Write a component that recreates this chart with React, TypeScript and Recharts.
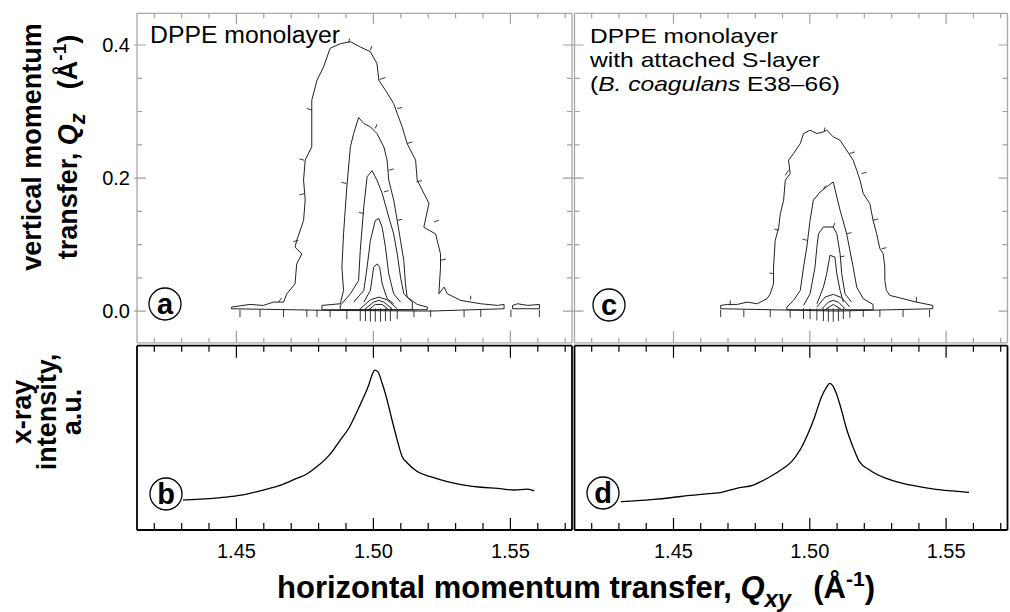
import React from 'react';
import { LineChart, Line, XAxis, YAxis } from 'recharts';

const FONT = '"Liberation Sans", Arial, Helvetica, sans-serif';

// axis ticks (Å^-1)
const qTicks = [1.42, 1.43, 1.44, 1.45, 1.46, 1.47, 1.48, 1.49, 1.5, 1.51, 1.52, 1.53, 1.54, 1.55, 1.56, 1.57];
const qMajor = [1.45, 1.5, 1.55];
const zTicks = [0, 0.05, 0.1, 0.15, 0.2, 0.25, 0.3, 0.35, 0.4];
const zMajor = [0, 0.2, 0.4];
const qDomain = [1.4137, 1.5725];
const zDomain = [-0.0477, 0.4477];
const iDomain = [0, 100];

type Pt = [number, number];

// ---- panel a: DPPE monolayer, contour lines [Qxy, Qz]
const aOuter: Pt[] = [
  [1.4482, 0.006], [1.4549, 0.010], [1.4598, 0.0085], [1.4635, 0.0135], [1.4672, 0.0135], [1.4684, 0.026],
  [1.4714, 0.041], [1.4720, 0.071], [1.4739, 0.086], [1.4714, 0.096], [1.4720, 0.106], [1.4745, 0.136],
  [1.4751, 0.167], [1.4745, 0.197], [1.4751, 0.227], [1.4775, 0.247], [1.4775, 0.277], [1.4775, 0.317],
  [1.4794, 0.347], [1.4818, 0.367], [1.4842, 0.395], [1.4879, 0.402], [1.4916, 0.405], [1.4952, 0.397],
  [1.4989, 0.390], [1.5013, 0.372], [1.5020, 0.347], [1.5044, 0.332], [1.5074, 0.312], [1.5087, 0.297],
  [1.5105, 0.277], [1.5123, 0.252], [1.5154, 0.227], [1.5160, 0.197], [1.5184, 0.177], [1.5203, 0.162],
  [1.5184, 0.126], [1.5227, 0.116], [1.5245, 0.086], [1.5245, 0.066], [1.5239, 0.026], [1.5258, 0.036],
  [1.5270, 0.026], [1.5319, 0.016], [1.5392, 0.011], [1.5453, 0.0085], [1.5477, 0.010], [1.5477, 0.0035],
  [1.5209, 0.0], [1.4842, 0.001], [1.4482, 0.0035], [1.4482, 0.006],
];
const aTail: Pt[] = [
  [1.5508, 0.0085], [1.5526, 0.011], [1.5563, 0.0085], [1.5606, 0.010], [1.5606, 0.0035], [1.5508, 0.0035], [1.5508, 0.0085],
];
const aC2: Pt[] = [
  [1.4812, 0.0085], [1.4879, 0.011], [1.4891, 0.031], [1.4885, 0.066], [1.4891, 0.116], [1.4903, 0.187],
  [1.4916, 0.247], [1.4928, 0.267], [1.4946, 0.291], [1.4965, 0.282], [1.4989, 0.277], [1.5013, 0.267],
  [1.5038, 0.247], [1.5050, 0.227], [1.5056, 0.197], [1.5074, 0.167], [1.5087, 0.136], [1.5099, 0.106],
  [1.5111, 0.076], [1.5117, 0.041], [1.5123, 0.021], [1.5160, 0.010], [1.5197, 0.006], [1.5197, 0.002],
  [1.4812, 0.002], [1.4812, 0.0085],
];
const aC3: Pt[] = [
  [1.4879, 0.0085], [1.4916, 0.026], [1.4946, 0.046], [1.4952, 0.091], [1.4965, 0.157], [1.4977, 0.202],
  [1.4995, 0.211], [1.5013, 0.197], [1.5032, 0.177], [1.5056, 0.1415], [1.5074, 0.116], [1.5087, 0.086],
  [1.5099, 0.051], [1.5111, 0.026], [1.5142, 0.0135], [1.5142, 0.002], [1.4879, 0.002], [1.4879, 0.0085],
];
const aC4: Pt[] = [
  [1.4928, 0.0135], [1.4965, 0.031], [1.4977, 0.066], [1.4989, 0.106], [1.5007, 0.1365], [1.5020, 0.139],
  [1.5032, 0.126], [1.5044, 0.096], [1.5056, 0.056], [1.5074, 0.026], [1.5099, 0.0135],
];
const aC5: Pt[] = [
  [1.4965, 0.0135], [1.4989, 0.031], [1.5001, 0.066], [1.5013, 0.071], [1.5023, 0.066], [1.5032, 0.041],
  [1.5050, 0.0186], [1.5074, 0.011],
];
const aC6: Pt[] = [[1.4952, 0.0035], [1.4989, 0.017], [1.5020, 0.021], [1.5050, 0.017], [1.5087, 0.0035]];
const aC7: Pt[] = [[1.4971, 0.0035], [1.5001, 0.0135], [1.5020, 0.016], [1.5038, 0.0135], [1.5068, 0.0035]];
const aC8: Pt[] = [[1.4983, 0.002], [1.5007, 0.010], [1.5032, 0.010], [1.5056, 0.002]];
// downhill tick marks on the contours [q1, z1, q2, z2]
const aHach: number[][] = [
  [1.4910, 0.4034, 1.4913, 0.4099], [1.4989, 0.3924, 1.4994, 0.3984], [1.5023, 0.3482, 1.5044, 0.3512],
  [1.5087, 0.3046, 1.5105, 0.3061], [1.5123, 0.2519, 1.5143, 0.2544], [1.5157, 0.1942, 1.5177, 0.1962],
  [1.5221, 0.1340, 1.5239, 0.1365], [1.5245, 0.0763, 1.5265, 0.0783], [1.5355, 0.0231, 1.5355, 0.0171],
  [1.4775, 0.3021, 1.4757, 0.3046], [1.4747, 0.2268, 1.4730, 0.2288], [1.4747, 0.1766, 1.4729, 0.1746],
  [1.4726, 0.1064, 1.4708, 0.1044], [1.4665, 0.0196, 1.4653, 0.0135], [1.5007, 0.2745, 1.5013, 0.2810],
  [1.5056, 0.2117, 1.5074, 0.2137], [1.5087, 0.1365, 1.5105, 0.1380], [1.4901, 0.1917, 1.4883, 0.1937],
  [1.5038, 0.1791, 1.5056, 0.1811], [1.4965, 0.1465, 1.4947, 0.1485],
  [1.4513, 0.002, 1.4513, -0.009], [1.4586, 0.002, 1.4586, -0.009], [1.4672, 0.002, 1.4672, -0.009],
  [1.4757, 0.002, 1.4757, -0.009], [1.4794, 0.002, 1.4794, -0.009], [1.4842, 0.002, 1.4842, -0.009],
  [1.4903, 0.002, 1.4903, -0.012], [1.4952, 0.004, 1.4952, -0.015], [1.4971, 0.004, 1.4971, -0.015],
  [1.4989, 0.004, 1.4989, -0.016], [1.5007, 0.004, 1.5007, -0.016], [1.5026, 0.004, 1.5026, -0.016],
  [1.5044, 0.004, 1.5044, -0.015], [1.5062, 0.004, 1.5062, -0.015], [1.5087, 0.002, 1.5087, -0.012],
  [1.5148, 0.002, 1.5148, -0.009], [1.5209, 0.002, 1.5209, -0.009], [1.5331, 0.002, 1.5331, -0.009],
  [1.5392, 0.002, 1.5392, -0.009], [1.5502, 0.002, 1.5502, -0.009], [1.5606, 0.002, 1.5606, -0.009],
];

// ---- panel c: DPPE monolayer with S-layer
const cOuter: Pt[] = [
  [1.4673, 0.0085], [1.4697, 0.010], [1.4734, 0.010], [1.4770, 0.0135], [1.4807, 0.011], [1.4843, 0.0186],
  [1.4855, 0.026], [1.4867, 0.041], [1.4867, 0.066], [1.4873, 0.106], [1.4886, 0.126], [1.4892, 0.1465],
  [1.4904, 0.1666], [1.4910, 0.1967], [1.4928, 0.2067], [1.4922, 0.2268], [1.4940, 0.2368], [1.4965, 0.2519],
  [1.4977, 0.2669], [1.5001, 0.272], [1.5026, 0.2669], [1.5050, 0.2694], [1.5062, 0.272], [1.5086, 0.2619],
  [1.5111, 0.2569], [1.5135, 0.2418], [1.5159, 0.2268], [1.5172, 0.2117], [1.5184, 0.1967], [1.5196, 0.1766],
  [1.5220, 0.1616], [1.5232, 0.1365], [1.5245, 0.1164], [1.5257, 0.0938], [1.5269, 0.0863], [1.5275, 0.0662],
  [1.5275, 0.0462], [1.5281, 0.0311], [1.5293, 0.0236], [1.5342, 0.0186], [1.5391, 0.0135], [1.5451, 0.0085],
  [1.5451, 0.0035], [1.5099, 0.0], [1.4673, 0.0035], [1.4673, 0.0085],
];
const cC2: Pt[] = [
  [1.4916, 0.006], [1.4940, 0.016], [1.4965, 0.031], [1.4977, 0.066], [1.4989, 0.0963], [1.5001, 0.1365],
  [1.5013, 0.1666], [1.5038, 0.1791], [1.5062, 0.1867], [1.5086, 0.1942], [1.5099, 0.1716], [1.5111, 0.1515],
  [1.5135, 0.1164], [1.5147, 0.0913], [1.5159, 0.0662], [1.5172, 0.0361], [1.5196, 0.0186], [1.5232, 0.010],
  [1.5232, 0.002], [1.4916, 0.002], [1.4916, 0.006],
];
const cC3: Pt[] = [
  [1.4977, 0.0085], [1.5001, 0.026], [1.5019, 0.066], [1.5026, 0.0963], [1.5032, 0.1164], [1.5050, 0.1264],
  [1.5086, 0.1264], [1.5099, 0.1164], [1.5111, 0.0863], [1.5117, 0.0562], [1.5129, 0.026], [1.5153, 0.0135],
];
const cC4: Pt[] = [
  [1.5026, 0.011], [1.5050, 0.0361], [1.5062, 0.0562], [1.5074, 0.0838], [1.5092, 0.0813], [1.5099, 0.0562],
  [1.5111, 0.0311], [1.5123, 0.0135],
];
const cC5: Pt[] = [[1.5026, 0.006], [1.5056, 0.0211], [1.5086, 0.0251], [1.5117, 0.0201], [1.5147, 0.006]];
const cC6: Pt[] = [[1.5044, 0.0035], [1.5068, 0.0135], [1.5086, 0.016], [1.5105, 0.0135], [1.5129, 0.0035]];
const cC7: Pt[] = [[1.5056, 0.002], [1.5086, 0.010], [1.5117, 0.002]];
const cHach: number[][] = [
  [1.5052, 0.2694, 1.5056, 0.2760], [1.5147, 0.2368, 1.5165, 0.2393], [1.5190, 0.2067, 1.5208, 0.2087],
  [1.5232, 0.1365, 1.5251, 0.1385], [1.5263, 0.0938, 1.5281, 0.0953], [1.5391, 0.0211, 1.5391, 0.0135],
  [1.4922, 0.2117, 1.4910, 0.2042], [1.4886, 0.1214, 1.4870, 0.1234], [1.4867, 0.0562, 1.4852, 0.0572],
  [1.4709, 0.0161, 1.4707, 0.0085], [1.5050, 0.1841, 1.5060, 0.1892], [1.5135, 0.1164, 1.5153, 0.1179],
  [1.4989, 0.1064, 1.4973, 0.1084], [1.5086, 0.1264, 1.5092, 0.1325], [1.5111, 0.0813, 1.5127, 0.0828],
  [1.4673, 0.002, 1.4673, -0.009], [1.4758, 0.002, 1.4758, -0.009], [1.4855, 0.002, 1.4855, -0.009],
  [1.4928, 0.002, 1.4928, -0.010], [1.4977, 0.004, 1.4977, -0.012], [1.5001, 0.004, 1.5001, -0.012],
  [1.5026, 0.004, 1.5026, -0.014], [1.5050, 0.004, 1.5050, -0.015], [1.5068, 0.004, 1.5068, -0.016],
  [1.5086, 0.004, 1.5086, -0.016], [1.5105, 0.004, 1.5105, -0.015], [1.5123, 0.004, 1.5123, -0.012],
  [1.5147, 0.002, 1.5147, -0.010], [1.5196, 0.002, 1.5196, -0.009], [1.5257, 0.002, 1.5257, -0.009],
  [1.5342, 0.002, 1.5342, -0.009], [1.5439, 0.002, 1.5439, -0.009],
];

// ---- panels b, d: x-ray intensity (a.u.)
const bQ = [1.4305, 1.4354, 1.4415, 1.4476, 1.4537, 1.4598, 1.4659, 1.4720, 1.4757, 1.4794, 1.4842, 1.4879, 1.4910, 1.4940, 1.4965, 1.4983, 1.4995, 1.5005, 1.5016, 1.5032, 1.5050, 1.5068, 1.5087, 1.5105, 1.5123, 1.5160, 1.5209, 1.5270, 1.5331, 1.5392, 1.5453, 1.5514, 1.5563, 1.5587];
const bI = [16.3, 16.6, 17.2, 18.1, 19.5, 21.7, 24.2, 28.0, 30.4, 34.4, 41.2, 48.8, 55.2, 64.2, 72.3, 78.7, 84.1, 86.8, 85.9, 79.6, 70.5, 59.7, 48.8, 39.8, 36.5, 31.7, 28.9, 26.2, 24.4, 23.2, 22.6, 21.7, 22.2, 21.2];
const dQ = [1.4307, 1.4367, 1.4428, 1.4489, 1.4550, 1.4611, 1.4672, 1.4732, 1.4793, 1.4854, 1.4903, 1.4933, 1.4964, 1.4994, 1.5018, 1.5043, 1.5061, 1.5073, 1.5085, 1.5097, 1.5116, 1.5134, 1.5158, 1.5182, 1.5219, 1.5280, 1.5341, 1.5401, 1.5462, 1.5523, 1.5584];
const dI = [15.4, 15.9, 16.6, 17.5, 18.6, 19.5, 20.3, 22.6, 24.4, 28.9, 33.5, 37.1, 43.4, 52.5, 61.5, 72.3, 77.4, 79.6, 78.1, 74.2, 65.1, 55.2, 45.2, 37.1, 32.6, 28.0, 25.3, 23.5, 22.1, 21.2, 20.4];

const rows = (pts: Pt[]) => pts.map(([q, z]) => ({ q, z }));
const hachRows = (segs: number[][]) =>
  segs.flatMap(([q1, z1, q2, z2]) => [{ q: q1, z: z1 }, { q: q2, z: z2 }, { q: q2, z: null }]);
const curve = (q: number[], v: number[]) => q.map((x, i) => ({ q: x, z: v[i] }));
const isMajor = (v: number, list: number[]) => list.some(m => Math.abs(m - v) < 1e-6);

// tick labels via recharts axes
const qLabel = (p: any) =>
  isMajor(p.payload.value, qMajor) ? (
    <text x={p.x} y={p.y + 28} textAnchor="middle" fontSize={20} fontFamily={FONT} fill="#000">
      {Number(p.payload.value).toFixed(2)}
    </text>
  ) : <g />;
const zLabel = (p: any) =>
  isMajor(p.payload.value, zMajor) ? (
    <text x={p.x - 7} y={p.y + 7} textAnchor="end" fontSize={20} fontFamily={FONT} fill="#000">
      {Number(p.payload.value).toFixed(1)}
    </text>
  ) : <g />;

// plot rectangles (page px) — used for the inward frame tick marks
type Rect = { x0: number; x1: number; y0: number; y1: number };
const rectA: Rect = { x0: 137, x1: 572, y0: 13.3, y1: 342.8 };
const rectC: Rect = { x0: 574.5, x1: 1007.5, y0: 13.3, y1: 342.8 };
const rectB: Rect = { x0: 137, x1: 572, y0: 345.7, y1: 530 };
const rectD: Rect = { x0: 574.5, x1: 1007.5, y0: 345.7, y1: 530 };

function frameTickPath(r: Rect, yDom: number[], contour: boolean) {
  const qx = (q: number) => r.x0 + ((q - qDomain[0]) / (qDomain[1] - qDomain[0])) * (r.x1 - r.x0);
  const zy = (z: number) => r.y1 - ((z - yDom[0]) / (yDom[1] - yDom[0])) * (r.y1 - r.y0);
  let d = '';
  qTicks.forEach(q => {
    const m = isMajor(q, qMajor);
    const x = qx(q).toFixed(1);
    d += `M${x},${r.y1}v${-(m ? 12 : contour ? 5 : 7)}`;
    d += `M${x},${r.y0}v${m ? (contour ? 10.5 : 12) : contour ? 5 : 6}`;
  });
  if (contour) {
    zTicks.forEach(z => {
      const m = isMajor(z, zMajor);
      const y = zy(z).toFixed(1);
      d += `M${r.x0 - (m ? 3 : 0)},${y}h${m ? 12 : 5}`;
      d += `M${r.x1},${y}h${-(m ? 9 : 5)}`;
    });
  }
  return d;
}

type Series = { data: any[]; w: number; c: string };

function Panel(props: {
  left: number; top: number; width: number; height: number; margin: any;
  lw: number; rw: number; th: number; bh: number;
  yDomain: number[]; frame: string; fw: number; series: Series[];
  contour: boolean; yLabels?: boolean; xLabels?: boolean;
}) {
  const { frame, fw, contour, margin } = props;
  const axisLine = { stroke: frame, strokeWidth: fw };
  const common = { type: 'number' as const, allowDataOverflow: true, interval: 0 as const, tickMargin: 0, tickSize: 0, tickLine: false, minTickGap: 0 };
  return (
    <div style={{ position: 'absolute', left: props.left, top: props.top }}>
      <LineChart width={props.width} height={props.height} margin={margin}>
        <XAxis xAxisId="b" {...common} dataKey="q" domain={qDomain} height={props.bh} orientation="bottom"
          ticks={qMajor} axisLine={axisLine} tick={props.xLabels ? qLabel : false} />
        <XAxis xAxisId="t" {...common} dataKey="q" domain={qDomain} height={props.th} orientation="top"
          ticks={qMajor} axisLine={axisLine} tick={false} />
        <YAxis yAxisId="l" {...common} domain={props.yDomain} width={props.lw} orientation="left"
          ticks={contour ? zMajor : []} axisLine={axisLine} tick={props.yLabels ? zLabel : false} />
        <YAxis yAxisId="r" {...common} domain={props.yDomain} width={props.rw} orientation="right"
          ticks={contour ? zMajor : []} axisLine={axisLine} tick={false} />
        {props.series.map((s, i) => (
          <Line key={i} xAxisId="b" yAxisId="l" data={s.data} dataKey="z" type={contour ? 'linear' : 'monotone'}
            stroke={s.c} strokeWidth={s.w} dot={false} activeDot={false}
            isAnimationActive={false} connectNulls={false} />
        ))}
      </LineChart>
    </div>
  );
}

function Circle({ cx, cy, t }: { cx: number; cy: number; t: string }) {
  return (
    <g>
      <circle cx={cx} cy={cy} r={16} fill="#fff" stroke="#000" strokeWidth={1.3} />
      <text x={cx} y={cy + 10} textAnchor="middle" fontSize={29} fontWeight="bold" fontFamily={FONT}>{t}</text>
    </g>
  );
}

export default function App() {
  const aSeries: Series[] = [aOuter, aTail, aC2, aC3, aC4, aC5, aC6, aC7, aC8].map(p => ({ data: rows(p), w: 1, c: '#222' }));
  aSeries.push({ data: hachRows(aHach), w: 0.9, c: '#222' });
  const cSeries: Series[] = [cOuter, cC2, cC3, cC4, cC5, cC6, cC7].map(p => ({ data: rows(p), w: 1, c: '#222' }));
  cSeries.push({ data: hachRows(cHach), w: 0.9, c: '#222' });

  return (
    <div style={{ position: 'absolute', left: 0, top: 0, width: 1010, height: 612, background: '#fff', overflow: 'hidden', fontFamily: FONT }}>
      <Panel left={0} top={0} width={580} height={350} lw={30} rw={6} th={10} bh={6}
        margin={{ top: 3.3, right: 2, bottom: 1.2, left: 107 }}
        yDomain={zDomain} frame="#a8a8a8" fw={1.3} series={aSeries} contour yLabels />
      <Panel left={560} top={0} width={460} height={350} lw={6} rw={6} th={10} bh={6}
        margin={{ top: 3.3, right: 6.5, bottom: 1.2, left: 8.5 }}
        yDomain={zDomain} frame="#a8a8a8" fw={1.3} series={cSeries} contour />
      <Panel left={0} top={330} width={580} height={250} lw={30} rw={6} th={10} bh={30}
        margin={{ top: 5.7, right: 2, bottom: 20, left: 107 }}
        yDomain={iDomain} frame="#000" fw={1.8} series={[{ data: curve(bQ, bI), w: 1.3, c: '#000' }]} contour={false} xLabels />
      <Panel left={560} top={330} width={460} height={250} lw={6} rw={6} th={10} bh={30}
        margin={{ top: 5.7, right: 6.5, bottom: 20, left: 8.5 }}
        yDomain={iDomain} frame="#000" fw={1.8} series={[{ data: curve(dQ, dI), w: 1.3, c: '#000' }]} contour={false} xLabels />

      <svg width={1010} height={612} style={{ position: 'absolute', left: 0, top: 0, pointerEvents: 'none' }}>
        <g fill="none" strokeWidth={1.2}>
          <path d={frameTickPath(rectA, zDomain, true)} stroke="#a0a0a0" />
          <path d={frameTickPath(rectC, zDomain, true)} stroke="#a0a0a0" />
          <path d={frameTickPath(rectB, iDomain, false)} stroke="#000" />
          <path d={frameTickPath(rectD, iDomain, false)} stroke="#000" />
        </g>
        <g fontFamily={FONT} fill="#000">
          <text x={150} y={43} fontSize={23} textLength={190} lengthAdjust="spacingAndGlyphs">DPPE monolayer</text>
          <text x={590} y={43} fontSize={21} textLength={188} lengthAdjust="spacingAndGlyphs">DPPE monolayer</text>
          <text x={590} y={67} fontSize={21} textLength={230} lengthAdjust="spacingAndGlyphs">with attached S-layer</text>
          <text x={590} y={91} fontSize={21} textLength={250} lengthAdjust="spacingAndGlyphs">(<tspan fontStyle="italic">B. coagulans</tspan> E38–66)</text>

          <Circle cx={165} cy={304} t="a" />
          <Circle cx={609} cy={305} t="c" />
          <Circle cx={166} cy={494} t="b" />
          <Circle cx={603} cy={493} t="d" />

          <g fontWeight="bold" fontSize={27}>
            <text transform="translate(41,147) rotate(-90)" textAnchor="middle">vertical momentum</text>
            <text transform="translate(77,147) rotate(-90)" textAnchor="middle">
              transfer, <tspan fontStyle="italic">Q</tspan><tspan fontStyle="italic" dy={8} fontSize={22}>z</tspan>
              <tspan dy={-8} dx={24}>(Å</tspan><tspan dy={-11} fontSize={19}>-1</tspan><tspan dy={11}>)</tspan>
            </text>
            <text transform="translate(31,412) rotate(-90)" textAnchor="middle">x-ray</text>
            <text transform="translate(56,412) rotate(-90)" textAnchor="middle">intensity,</text>
            <text transform="translate(81,412) rotate(-90)" textAnchor="middle">a.u.</text>
          </g>
          <text x={576} y={598} textAnchor="middle" fontWeight="bold" fontSize={31}>
            horizontal momentum transfer, <tspan fontStyle="italic">Q</tspan><tspan fontStyle="italic" dy={9} fontSize={24}>xy</tspan>
            <tspan dy={-9} dx={22}>(Å</tspan><tspan dy={-12} fontSize={21}>-1</tspan><tspan dy={12}>)</tspan>
          </text>
        </g>
      </svg>
    </div>
  );
}
